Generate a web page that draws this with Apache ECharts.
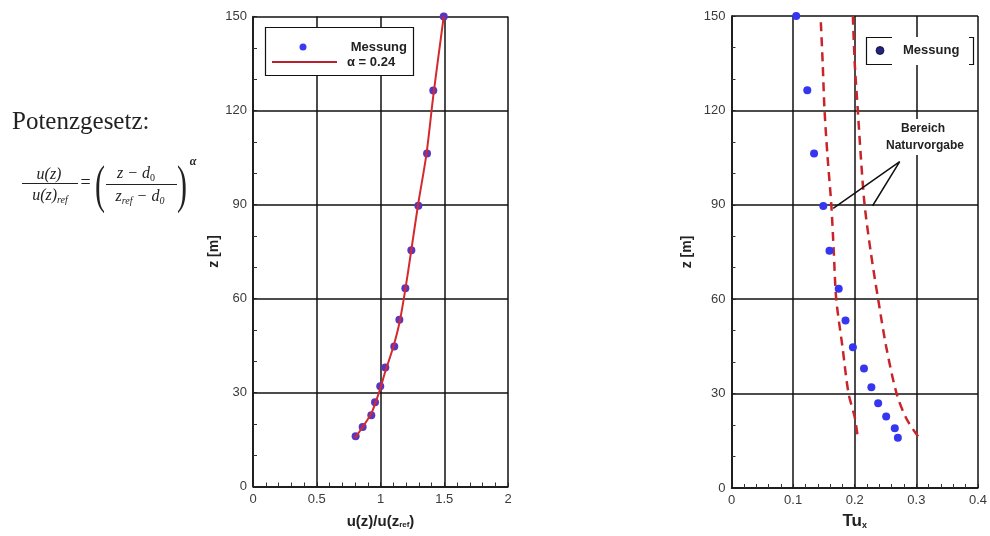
<!DOCTYPE html>
<html>
<head>
<meta charset="utf-8">
<script src="https://cdn.jsdelivr.net/npm/echarts@6/dist/echarts.min.js"></script>
<style>
  html, body { margin: 0; padding: 0; background: #fff; }
  #chart { width: 990px; height: 536px; }
</style>
</head>
<body>
<div id="chart"></div>
<script>
// Measurement heights z [m]
const heights = [150, 126.4, 106.3, 89.6, 75.4, 63.3, 53.2, 44.7, 38.0, 32.0, 26.9, 22.7, 19.0, 16.0];
// Normalised mean velocity u(z)/u(z_ref) at those heights
const speedRatio = [1.496, 1.414, 1.365, 1.297, 1.242, 1.195, 1.148, 1.108, 1.038, 0.998, 0.957, 0.928, 0.860, 0.805];
// Turbulence intensity Tu_x at those heights
const turbulence = [0.105, 0.123, 0.134, 0.149, 0.159, 0.174, 0.185, 0.197, 0.215, 0.227, 0.238, 0.251, 0.265, 0.270];

// Power-law profile, alpha = 0.24
const powerLawU = [0.800, 0.860, 0.930, 0.980, 1.000, 1.040, 1.100, 1.150, 1.195, 1.240, 1.295, 1.360, 1.415, 1.496];
const powerLawZ = [15.5, 19.0, 23.5, 29.0, 31.5, 37.0, 44.5, 52.5, 63.0, 75.0, 90.0, 106.0, 125.0, 150.0];

// Target range for turbulence intensity (lower / upper bound)
const rangeLowTu  = [0.145, 0.148, 0.151, 0.156, 0.162, 0.166, 0.170, 0.180, 0.190, 0.200, 0.205];
const rangeLowZ   = [148, 135, 120, 105, 90, 75, 60, 45, 30, 22.5, 16];
const rangeHighTu = [0.197, 0.200, 0.205, 0.210, 0.216, 0.226, 0.238, 0.251, 0.268, 0.284, 0.306];
const rangeHighZ  = [150, 135, 120, 105, 90, 75, 60, 45, 30, 22, 15.5];

// Leader lines of the "Bereich Naturvorgabe" note: lower bound -> note -> upper bound
const noteTu = [0.165, 0.273, 0.229];
const noteZ  = [88.9, 103.7, 89.7];

const zip = (xs, ys) => xs.map((x, i) => [x, ys[i]]);

const sans = 'Liberation Sans, Arial, sans-serif';
const serif = 'Liberation Serif, Times New Roman, serif';
const labelFont = { color: '#3a3a3a', fontSize: 13, fontFamily: sans };
const nameFont = { color: '#222', fontWeight: 'bold', fontFamily: sans };

function valueAxis(extra) {
  return Object.assign({
    type: 'value',
    axisLine: { show: true, onZero: false, lineStyle: { color: '#111', width: 1.5 } },
    axisTick: { show: true, inside: true, length: 4, lineStyle: { color: '#222' } },
    splitLine: { show: true, lineStyle: { color: '#111', width: 1.5 } },
    axisLabel: Object.assign({ margin: 6 }, labelFont)
  }, extra);
}

// short outward stubs at the major ticks
function stubAxis(extra) {
  return Object.assign({
    type: 'value',
    axisLine: { show: false },
    axisTick: { show: true, inside: false, length: 3, lineStyle: { color: '#222' } },
    axisLabel: { show: false },
    splitLine: { show: false }
  }, extra);
}

const minor = (n) => ({ show: true, splitNumber: n, length: 4, lineStyle: { color: '#333', width: 1 } });

const option = {
  animation: false,
  backgroundColor: '#fff',
  grid: [
    { left: 253, top: 16.5, width: 255, height: 470 },
    { left: 731.5, top: 16, width: 247, height: 472 }
  ],
  xAxis: [
    valueAxis({
      gridIndex: 0, min: 0, max: 2, interval: 0.5, minorTick: minor(5),
      name: '{b|u(z)/u(z}{s|ref}{b|)}', nameLocation: 'middle', nameGap: 28,
      nameTextStyle: {
        rich: {
          b: Object.assign({ fontSize: 15 }, nameFont),
          s: Object.assign({ fontSize: 8, padding: [6, 0, 0, 0] }, nameFont)
        }
      }
    }),
    valueAxis({
      gridIndex: 1, min: 0, max: 0.4, interval: 0.1, minorTick: minor(5),
      name: '{b|Tu}{s|x}', nameLocation: 'middle', nameGap: 25,
      nameTextStyle: {
        rich: {
          b: Object.assign({ fontSize: 17 }, nameFont),
          s: Object.assign({ fontSize: 9, padding: [8, 0, 0, 0] }, nameFont)
        }
      }
    }),
    stubAxis({ gridIndex: 0, min: 0, max: 2, interval: 0.5 }),
    stubAxis({ gridIndex: 1, min: 0, max: 0.4, interval: 0.1 })
  ],
  yAxis: [
    valueAxis({
      gridIndex: 0, min: 0, max: 150, interval: 30, minorTick: minor(3),
      name: 'z [m]', nameLocation: 'middle', nameGap: 31,
      nameTextStyle: Object.assign({ fontSize: 14 }, nameFont)
    }),
    valueAxis({
      gridIndex: 1, min: 0, max: 150, interval: 30, minorTick: minor(3),
      name: 'z [m]', nameLocation: 'middle', nameGap: 37,
      nameTextStyle: Object.assign({ fontSize: 14 }, nameFont)
    }),
    stubAxis({ gridIndex: 0, min: 0, max: 150, interval: 30 }),
    stubAxis({ gridIndex: 1, min: 0, max: 150, interval: 30 })
  ],
  series: [
    {
      name: 'Messung', type: 'scatter', xAxisIndex: 0, yAxisIndex: 0,
      data: zip(speedRatio, heights), symbolSize: 8, z: 3,
      itemStyle: { color: '#5a36c0', opacity: 1 }
    },
    {
      name: 'α = 0.24', type: 'line', xAxisIndex: 0, yAxisIndex: 0,
      data: zip(powerLawU, powerLawZ), smooth: 0.3, showSymbol: false, z: 4,
      lineStyle: { color: '#d42a2e', width: 2 }
    },
    {
      name: 'Messung Tu', type: 'scatter', xAxisIndex: 1, yAxisIndex: 1,
      data: zip(turbulence, heights), symbolSize: 8, z: 3,
      itemStyle: { color: '#3636f0', opacity: 1 }
    },
    {
      name: 'Bereich unten', type: 'line', xAxisIndex: 1, yAxisIndex: 1,
      data: zip(rangeLowTu, rangeLowZ), smooth: 0.3, showSymbol: false, z: 2,
      lineStyle: { color: '#c8242a', width: 2.5, type: [9, 6] }
    },
    {
      name: 'Bereich oben', type: 'line', xAxisIndex: 1, yAxisIndex: 1,
      data: zip(rangeHighTu, rangeHighZ), smooth: 0.3, showSymbol: false, z: 2,
      lineStyle: { color: '#c8242a', width: 2.5, type: [9, 6] }
    },
    {
      name: 'Hinweis', type: 'line', xAxisIndex: 1, yAxisIndex: 1,
      data: zip(noteTu, noteZ), showSymbol: false, z: 5,
      lineStyle: { color: '#111', width: 1.5 }
    }
  ],
  graphic: [
    // power-law formula
    { type: 'text', left: 12, top: 110, z: 10,
      style: { text: 'Potenzgesetz:', font: '25px ' + serif, fill: '#222' } },
    { type: 'text', x: 49, y: 175, z: 10,
      style: { text: 'u(z)', font: 'italic 16px ' + serif, fill: '#222', align: 'center', verticalAlign: 'middle' } },
    { type: 'line', z: 10, shape: { x1: 22, y1: 183.5, x2: 78, y2: 183.5 }, style: { stroke: '#222', lineWidth: 1 } },
    { type: 'text', x: 50, y: 196, z: 10,
      style: { text: '{i|u(z)}{s|ref}', align: 'center', verticalAlign: 'middle',
        rich: { i: { font: 'italic 16px ' + serif, fill: '#222' },
                s: { font: 'italic 10px ' + serif, fill: '#222', padding: [8, 0, 0, 0] } } } },
    { type: 'text', x: 85.5, y: 183, z: 10,
      style: { text: '=', font: '18px ' + serif, fill: '#222', align: 'center', verticalAlign: 'middle' } },
    { type: 'text', x: 100, y: 188, z: 10, scaleY: 1.75,
      style: { text: '(', font: '30px ' + serif, fill: '#222', align: 'center', verticalAlign: 'middle' } },
    { type: 'text', x: 136, y: 174, z: 10,
      style: { text: '{i|z − d}{s|0}', align: 'center', verticalAlign: 'middle',
        rich: { i: { font: 'italic 16px ' + serif, fill: '#222' },
                s: { font: '10px ' + serif, fill: '#222', padding: [8, 0, 0, 0] } } } },
    { type: 'line', z: 10, shape: { x1: 106, y1: 184.5, x2: 177, y2: 184.5 }, style: { stroke: '#222', lineWidth: 1 } },
    { type: 'text', x: 140, y: 197, z: 10,
      style: { text: '{i|z}{s|ref}{i| − d}{s|0}', align: 'center', verticalAlign: 'middle',
        rich: { i: { font: 'italic 16px ' + serif, fill: '#222' },
                s: { font: 'italic 10px ' + serif, fill: '#222', padding: [8, 0, 0, 0] } } } },
    { type: 'text', x: 182, y: 188, z: 10, scaleY: 1.75,
      style: { text: ')', font: '30px ' + serif, fill: '#222', align: 'center', verticalAlign: 'middle' } },
    { type: 'text', x: 193, y: 162, z: 10,
      style: { text: 'α', font: 'bold italic 12px ' + serif, fill: '#222', align: 'center', verticalAlign: 'middle' } },

    // legend of the velocity profile
    { type: 'rect', z: 20, shape: { x: 265.5, y: 27.5, width: 148, height: 48 },
      style: { fill: '#fff', stroke: '#111', lineWidth: 1.2 } },
    { type: 'circle', z: 21, shape: { cx: 303, cy: 47, r: 3.5 }, style: { fill: '#3a3af0' } },
    { type: 'text', z: 21, x: 407, y: 47,
      style: { text: 'Messung', font: 'bold 13px ' + sans, fill: '#222', align: 'right', verticalAlign: 'middle' } },
    { type: 'line', z: 21, shape: { x1: 272, y1: 62, x2: 337, y2: 62 }, style: { stroke: '#b8202e', lineWidth: 2 } },
    { type: 'text', z: 21, x: 347, y: 62,
      style: { text: 'α = 0.24', font: 'bold 13px ' + sans, fill: '#222', align: 'left', verticalAlign: 'middle' } },

    // legend of the turbulence profile
    { type: 'rect', z: 20, shape: { x: 866, y: 37, width: 108, height: 28 }, style: { fill: '#fff' } },
    { type: 'polyline', z: 21, shape: { points: [[892, 37.5], [866.5, 37.5], [866.5, 64.5], [892, 64.5]] },
      style: { stroke: '#111', lineWidth: 1.2, fill: null } },
    { type: 'polyline', z: 21, shape: { points: [[969, 37.5], [973.5, 37.5], [973.5, 64.5], [969, 64.5]] },
      style: { stroke: '#111', lineWidth: 1.2, fill: null } },
    { type: 'circle', z: 21, shape: { cx: 880, cy: 50.5, r: 4 }, style: { fill: '#22228a', stroke: '#111', lineWidth: 0.8 } },
    { type: 'text', z: 21, x: 903, y: 50.5,
      style: { text: 'Messung', font: 'bold 13px ' + sans, fill: '#222', align: 'left', verticalAlign: 'middle' } },

    // note on the target range
    { type: 'rect', z: 18, shape: { x: 885, y: 119, width: 82, height: 36 }, style: { fill: '#fff' } },
    { type: 'text', z: 21, x: 923, y: 128.5,
      style: { text: 'Bereich', font: 'bold 12px ' + sans, fill: '#222', align: 'center', verticalAlign: 'middle' } },
    { type: 'text', z: 21, x: 925, y: 146,
      style: { text: 'Naturvorgabe', font: 'bold 12px ' + sans, fill: '#222', align: 'center', verticalAlign: 'middle' } }
  ]
};

const chart = echarts.init(document.getElementById('chart'), null, { renderer: 'canvas' });
chart.setOption(option);
</script>
</body>
</html>
